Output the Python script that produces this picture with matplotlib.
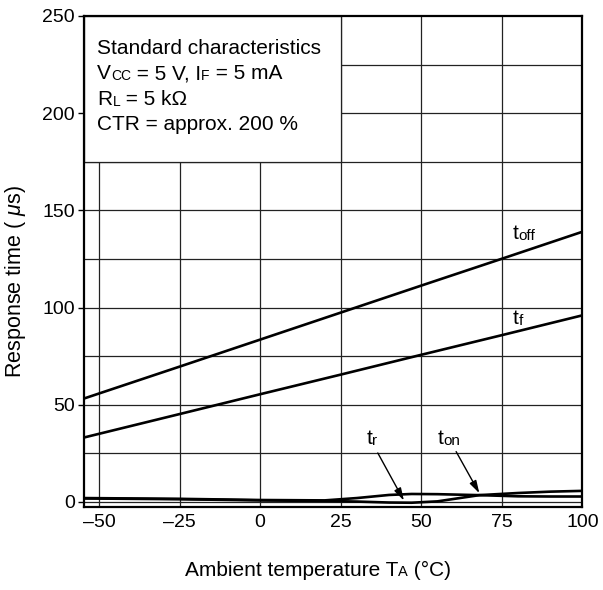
import numpy as np
import matplotlib
matplotlib.use("Agg")
import matplotlib.pyplot as plt
from matplotlib.patches import Rectangle

plt.rcParams['font.family'] = ['Liberation Sans', 'DejaVu Sans']
plt.rcParams['mathtext.fontset'] = 'custom'
plt.rcParams['mathtext.rm'] = 'Liberation Sans'
plt.rcParams['mathtext.it'] = 'Liberation Sans:italic'

# values
temp_lin = [-55, -25, 0, 25, 50, 75, 100]
t_off = [53, 69.6, 83.5, 97.4, 111.3, 125.1, 139]
t_f = [33, 45.2, 55.4, 65.5, 75.7, 85.8, 96]

temp_low = [-55, -25, 0, 20, 30, 40, 47, 55, 68, 80, 90, 100]
t_r = [1.8, 1.4, 0.8, 0.5, 0.2, -0.3, -0.4, 0.3, 3.5, 4.6, 5.3, 5.7]
t_on = [2.0, 1.6, 1.0, 0.8, 2.0, 3.6, 4.1, 4.0, 3.5, 2.9, 2.8, 2.8]

x_ticks = [-50, -25, 0, 25, 50, 75, 100]
y_ticks = [0, 50, 100, 150, 200, 250]

info_lines = [
    [("Standard characteristics", 15)],
    [("V", 15), ("CC", 10), (" = 5 V, I", 15), ("F", 10), (" = 5 mA", 15)],
    [("R", 15), ("L", 10), (" = 5 k\u03a9", 15)],
    [("CTR = approx. 200 %", 15)],
]
xlabel_parts = [("Ambient temperature T", 15), ("A", 10.5), (" (\u00b0C)", 15)]


def rich_text(ax, x, y, parts, coords):
    prev = None
    for s, size in parts:
        if prev is None:
            prev = ax.annotate(s, xy=(x, y), xycoords=coords, fontsize=size,
                               ha='left', va='bottom', zorder=5,
                               annotation_clip=False)
        else:
            prev = ax.annotate(s, xy=(1, 0), xycoords=prev, fontsize=size,
                               ha='left', va='bottom', zorder=5,
                               annotation_clip=False)
    return prev


fig = plt.figure(figsize=(6.03, 5.90), dpi=100)
ax = fig.add_axes([0.140, 0.141, 0.826, 0.832])

ax.set_xlim(-54.5, 100)
ax.set_ylim(-2.5, 250)

for gx in range(-50, 100, 25):
    ax.axvline(gx, color='#222222', lw=0.9, zorder=1)
for gy in range(0, 250, 25):
    ax.axhline(gy, color='#222222', lw=0.9, zorder=1)

ax.add_patch(Rectangle((-54.5, 175), 79.5, 75, facecolor='white',
                       edgecolor='#222222', lw=0.9, zorder=2))

ax.plot(temp_lin, t_off, color='black', lw=1.9, zorder=3)
ax.plot(temp_lin, t_f, color='black', lw=1.9, zorder=3)
ax.plot(temp_low, t_r, color='black', lw=1.9, zorder=3)
ax.plot(temp_low, t_on, color='black', lw=1.9, zorder=3)

rich_text(ax, 78.3, 133.0, [("t", 15), ("off", 11)], 'data')
rich_text(ax, 78.3, 89.3, [("t", 15), ("f", 11)], 'data')
rich_text(ax, 33.0, 27.6, [("t", 15), ("r", 11)], 'data')
rich_text(ax, 55.0, 27.6, [("t", 15), ("on", 11)], 'data')

arrow = dict(arrowstyle='-|>,head_length=0.75,head_width=0.22', color='black',
             lw=1.0, mutation_scale=10, shrinkA=0, shrinkB=0)
ax.annotate("", xy=(44.6, 0.7), xytext=(36.5, 25.2), arrowprops=arrow, zorder=4)
ax.annotate("", xy=(68.0, 4.5), xytext=(60.8, 25.9), arrowprops=arrow, zorder=4)

# info box text
for i, parts in enumerate(info_lines):
    rich_text(ax, 0.026, 0.914 - i * 0.0515, parts, 'axes fraction')

ax.set_xticks(x_ticks)
ax.set_yticks(y_ticks)
ax.set_xticklabels([f"{v}".replace("-", "\u2013") for v in x_ticks])
ax.tick_params(axis='both', direction='out', length=4, width=1,
               labelsize=14, pad=3)
ax.tick_params(axis='x', length=0, pad=5)

for sp in ax.spines.values():
    sp.set_linewidth(1.6)
    sp.set_zorder(6)

# x label built from pieces so the subscript sits on the baseline
rich_text(ax, 185, 10.5, xlabel_parts, 'figure pixels')

ax.set_ylabel("Response time ( $\\mathit{\\mu}$s)", fontsize=15.5)
ax.yaxis.set_label_coords(-0.113, 0.458)

fig.savefig("out.png", dpi=100)
